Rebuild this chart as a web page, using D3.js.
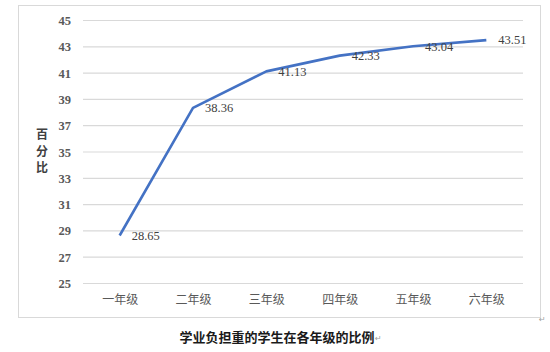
<!DOCTYPE html>
<html>
<head>
<meta charset="utf-8">
<script src="https://cdn.jsdelivr.net/npm/d3@7"></script>
<style>
  html, body { margin: 0; padding: 0; background: #fff; }
  svg { display: block; }
</style>
</head>
<body>
<svg id="chart" width="550" height="352"></svg>
<script>
// Grades and the share of students with a heavy study load (percent)
const categories = ["一年级", "二年级", "三年级", "四年级", "五年级", "六年级"];
const values = [28.65, 38.36, 41.13, 42.33, 43.04, 43.51];
const yTicks = [25, 27, 29, 31, 33, 35, 37, 39, 41, 43, 45];
const yTitle = "百分比";
const chartTitle = "学业负担重的学生在各年级的比例";

const svg = d3.select("#chart");
const cjk = "'Noto Sans CJK SC', 'Noto Sans', sans-serif";
const serif = "'Liberation Serif', 'DejaVu Serif', serif";

// Chart frame
svg.append("rect")
  .attr("x", 18.5).attr("y", 5.5)
  .attr("width", 522).attr("height", 312)
  .attr("fill", "#fff")
  .attr("stroke", "#d9d9d9").attr("stroke-width", 1);

const plot = { left: 83, right: 523, top: 20.5, bottom: 283.5 };

const x = d3.scalePoint()
  .domain(categories)
  .range([plot.left, plot.right])
  .padding(0.5);

const y = d3.scaleLinear()
  .domain([25, 45])
  .range([plot.bottom, plot.top]);

// Horizontal gridlines
svg.append("g")
  .selectAll("line")
  .data(yTicks)
  .join("line")
  .attr("x1", plot.left).attr("x2", plot.right)
  .attr("y1", d => y(d)).attr("y2", d => y(d))
  .attr("stroke", "#d9d9d9").attr("stroke-width", 1.2);

// Y axis tick labels
const yAxis = d3.axisLeft(y).tickValues(yTicks).tickSize(0).tickPadding(0);
const gy = svg.append("g")
  .attr("transform", `translate(${plot.left - 12},0)`)
  .call(yAxis);
gy.select(".domain").remove();
gy.selectAll("text")
  .attr("font-family", serif)
  .attr("font-size", 12.5)
  .attr("font-weight", "bold")
  .attr("fill", "#595959");

// X axis category labels
const xAxis = d3.axisBottom(x).tickSize(0).tickPadding(0);
const gx = svg.append("g")
  .attr("transform", `translate(0,${plot.bottom + 12})`)
  .call(xAxis);
gx.select(".domain").remove();
gx.selectAll("text")
  .attr("font-family", cjk)
  .attr("font-size", 12)
  .attr("fill", "#595959");

// Vertical, stacked y-axis title: one text per character
svg.append("g")
  .selectAll("text")
  .data(Array.from(yTitle))
  .join("text")
  .attr("x", 42)
  .attr("y", (d, i) => 135 + i * 16.5)
  .attr("dy", "0.35em")
  .attr("text-anchor", "middle")
  .attr("font-family", cjk)
  .attr("font-size", 12)
  .attr("font-weight", "bold")
  .attr("fill", "#404040")
  .text(d => d);

// Data line
const line = d3.line()
  .x((d, i) => x(categories[i]))
  .y(d => y(d));

svg.append("path")
  .datum(values)
  .attr("d", line)
  .attr("fill", "none")
  .attr("stroke", "#4472c4")
  .attr("stroke-width", 2.6)
  .attr("stroke-linejoin", "round");

// Value labels to the right of each point
svg.append("g")
  .selectAll("text")
  .data(values)
  .join("text")
  .attr("x", (d, i) => x(categories[i]) + 12)
  .attr("y", d => y(d))
  .attr("dy", "0.35em")
  .attr("font-family", serif)
  .attr("font-size", 12.5)
  .attr("fill", "#404040")
  .text(d => d.toFixed(2));

// Chart title below the frame
svg.append("text")
  .attr("x", 277)
  .attr("y", 337)
  .attr("dy", "0.35em")
  .attr("text-anchor", "middle")
  .attr("font-family", cjk)
  .attr("font-size", 13)
  .attr("font-weight", "bold")
  .attr("fill", "#1a1a1a")
  .text(chartTitle);

// Paragraph marks
svg.append("text")
  .attr("x", 375).attr("y", 341)
  .attr("font-family", "'DejaVu Sans', sans-serif")
  .attr("font-size", 8)
  .attr("fill", "#a0a0a0")
  .text("↵");
svg.append("text")
  .attr("x", 539).attr("y", 322)
  .attr("font-family", "'DejaVu Sans', sans-serif")
  .attr("font-size", 8)
  .attr("fill", "#a0a0a0")
  .text("↵");
</script>
</body>
</html>
